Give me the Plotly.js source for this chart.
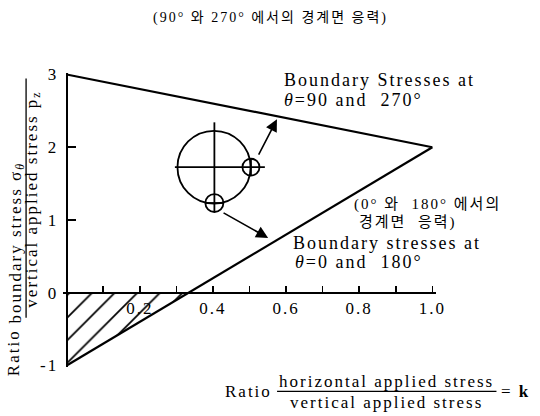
<!DOCTYPE html>
<html>
<head>
<meta charset="utf-8">
<script src="https://cdn.plot.ly/plotly-3.0.1.min.js"></script>
<style>
  html, body { margin: 0; padding: 0; background: #fff; }
  #chart { width: 540px; height: 416px; }
  /* old-print look: widely spaced letters */
  text { letter-spacing: 2px; }
</style>
</head>
<body>
<div id="chart"></div>
<script>
// k = horizontal applied stress / vertical applied stress
const kValues = [0, 1.0];
// boundary stress ratio σθ / pz at θ = 90° and 270°
const sigma90 = [3, 2];
// boundary stress ratio σθ / pz at θ = 0° and 180°
const sigma0 = [-1, 2];

const xTickVals = [0.2, 0.4, 0.6, 0.8, 1.0];
const xTickText = ['0.2', '0.4', '0.6', '0.8', '1.0'];
const yTickVals = [-1, 0, 1, 2, 3];
const yTickText = ['-1', '0', '1', '2', '3'];

// tension zone: σ0 below zero, from k = 0 up to where the θ = 0° line crosses zero
const kZero = kValues[0] + (0 - sigma0[0]) * (kValues[1] - kValues[0]) / (sigma0[1] - sigma0[0]);
const tensionK = [kValues[0], kZero, kValues[0]];
const tensionS = [0, 0, sigma0[0]];

const W = 540, H = 416;
const M = { l: 63.35, r: 104.35, t: 72.54, b: 48.54 };
const plotW = W - M.l - M.r, plotH = H - M.t - M.b;
const xRange = [-0.01, 1.01], yRange = [-1.02, 3.02];
// page pixel -> paper fraction, for the labels placed around the plot
const px = v => (v - M.l) / plotW;
const py = v => (H - M.b - v) / plotH;

const SERIF = '"Liberation Serif", "Times New Roman", serif';
const KR = '"Liberation Serif", "Noto Sans CJK KR", serif';
const INK = '#000';

const traces = [
  {
    x: tensionK, y: tensionS, mode: 'lines', fill: 'toself',
    fillcolor: 'rgba(0,0,0,0)', line: { width: 0 },
    fillpattern: { shape: '/', fgcolor: INK, bgcolor: 'rgba(0,0,0,0)', size: 16, solidity: 0.11 },
    hoverinfo: 'skip', showlegend: false
  },
  {
    x: kValues, y: sigma90, mode: 'lines',
    line: { color: INK, width: 2.2 }, showlegend: false
  },
  {
    x: kValues, y: sigma0, mode: 'lines',
    line: { color: INK, width: 2.2 }, showlegend: false
  }
];

function label(text, x, y, extra) {
  return Object.assign({
    xref: 'paper', yref: 'paper', x: px(x), y: py(y), text: text,
    showarrow: false, xanchor: 'left', yanchor: 'middle',
    font: { family: SERIF, size: 18, color: INK }
  }, extra || {});
}

function arrow(tailK, tailS, headK, headS) {
  return {
    xref: 'x', yref: 'y', axref: 'x', ayref: 'y',
    x: headK, y: headS, ax: tailK, ay: tailS, text: '',
    showarrow: true, arrowhead: 2, arrowsize: 1.5, arrowwidth: 1.6,
    arrowcolor: INK, standoff: 0, startstandoff: 0
  };
}

const annotations = [
  label('(90° 와 270° 에서의 경계면 응력)', 270, 17, { xanchor: 'center', font: { family: KR, size: 14, color: INK } }),
  label('Boundary Stresses at', 282, 80),
  label('<i>θ</i>=90 and  270°', 282, 100),
  label('(0° 와  180° 에서의', 352, 204, { font: { family: KR, size: 15, color: INK } }),
  label('경계면  응력)', 357, 223, { font: { family: KR, size: 15, color: INK } }),
  label('Boundary stresses at', 291, 243),
  label('<i>θ</i>=0 and  180°', 293, 262),

  // vertical axis title, written as a fraction
  label('Ratio', 14, 353, { xanchor: 'center', textangle: -90, font: { family: SERIF, size: 17, color: INK } }),
  label('boundary stress σ<sub><i>θ</i></sub>', 17, 243, { xanchor: 'center', textangle: -90, font: { family: SERIF, size: 17, color: INK } }),
  label('vertical applied stress p<sub>z</sub>', 33, 199, { xanchor: 'center', textangle: -90, font: { family: SERIF, size: 17, color: INK } }),

  // horizontal axis title, written as a fraction
  label('Ratio', 274, 392, { xanchor: 'right', font: { family: SERIF, size: 17, color: INK } }),
  label('horizontal applied stress', 386, 382, { xanchor: 'center', font: { family: SERIF, size: 17, color: INK } }),
  label('vertical applied stress', 386, 403, { xanchor: 'center', font: { family: SERIF, size: 17, color: INK } }),
  label('= <b>k</b>', 499, 392, { font: { family: SERIF, size: 17, color: INK } }),

  // arrows from the hole sketch to the two curves
  arrow(0.523, 1.877, 0.575, 2.384),
  arrow(0.425, 1.110, 0.551, 0.753)
];

const thin = { color: INK, width: 1.8 };
const shapes = [
  // circular opening with its centre lines
  { type: 'circle', xref: 'x', yref: 'y', x0: 0.303, x1: 0.503, y0: 1.226, y1: 2.226, line: thin },
  { type: 'line', xref: 'x', yref: 'y', x0: 0.296, x1: 0.542, y0: 1.726, y1: 1.726, line: thin },
  { type: 'line', xref: 'x', yref: 'y', x0: 0.404, x1: 0.404, y0: 2.342, y1: 1.110, line: thin },
  // boundary point at θ = 90°
  { type: 'circle', xref: 'x', yref: 'y', x0: 0.4807, x1: 0.5273, y0: 1.610, y1: 1.842, line: thin },
  { type: 'line', xref: 'x', yref: 'y', x0: 0.504, x1: 0.504, y0: 1.610, y1: 1.842, line: thin },
  // boundary point at θ = 0°
  { type: 'circle', xref: 'x', yref: 'y', x0: 0.3793, x1: 0.4287, y0: 1.110, y1: 1.356, line: thin },
  { type: 'line', xref: 'x', yref: 'y', x0: 0.3793, x1: 0.4287, y0: 1.233, y1: 1.233, line: thin },
  // fraction bars of the axis titles
  { type: 'line', xref: 'paper', yref: 'paper', x0: px(26.5), x1: px(26.5), y0: py(78), y1: py(318), line: { color: INK, width: 1.3 } },
  { type: 'line', xref: 'paper', yref: 'paper', x0: px(277), x1: px(496), y0: py(392), y1: py(392), line: { color: INK, width: 1.3 } }
];

const layout = {
  width: W, height: H,
  margin: M,
  paper_bgcolor: '#fff', plot_bgcolor: '#fff',
  showlegend: false,
  xaxis: {
    range: xRange, anchor: 'free',
    position: (0 - yRange[0]) / (yRange[1] - yRange[0]),
    showgrid: false, zeroline: false,
    showline: true, linecolor: INK, linewidth: 2.2,
    tickmode: 'array', tickvals: xTickVals, ticktext: xTickText,
    ticks: 'inside', ticklen: 6, tickwidth: 1.5, tickcolor: INK,
    minor: { tickmode: 'linear', tick0: 0.1, dtick: 0.2, ticks: 'inside', ticklen: 6, tickwidth: 1.5, tickcolor: INK },
    tickfont: { family: SERIF, size: 17, color: INK },
    ticklabelstandoff: 0
  },
  yaxis: {
    range: yRange, anchor: 'free',
    position: (0 - xRange[0]) / (xRange[1] - xRange[0]),
    showgrid: false, zeroline: false,
    showline: true, linecolor: INK, linewidth: 2.2,
    tickmode: 'array', tickvals: yTickVals, ticktext: yTickText,
    ticks: '',
    minor: { tickmode: 'array', tickvals: [1, 2], ticks: 'inside', ticklen: 8, tickwidth: 1.5, tickcolor: INK },
    tickfont: { family: SERIF, size: 17, color: INK },
    ticklabelstandoff: 4
  },
  annotations: annotations,
  shapes: shapes
};

Plotly.newPlot('chart', traces, layout, { staticPlot: true, displayModeBar: false });
</script>
</body>
</html>
